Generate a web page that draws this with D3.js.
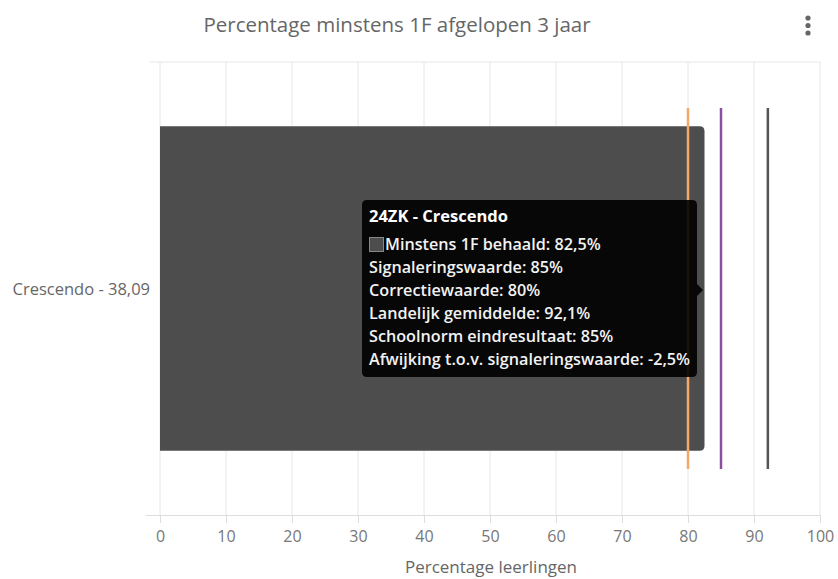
<!DOCTYPE html>
<html><head><meta charset="utf-8">
<script src="https://cdn.jsdelivr.net/npm/d3@7"></script>
<style>
html,body{margin:0;padding:0;background:#fff;}
svg{display:block;font-family:"Open Sans","Noto Sans",sans-serif;}
</style></head>
<body>
<svg id="chart" width="838" height="579"></svg>
<script>
const categories = ["Crescendo - 38,09"];
const behaald = [82.5];
const correctiewaarde = [80];
const signaleringswaarde = [85];
const landelijk = [92.1];
const schoolnorm = [85];
const afwijking = [-2.5];
const xTicks = [0,10,20,30,40,50,60,70,80,90,100];
const schoolCode = "24ZK";
const schoolName = "Crescendo";

const svg = d3.select("#chart");
const W = 838, H = 579;
const m = {left:160, right:18, top:62, bottom:64};
const x = d3.scaleLinear().domain([0,100]).range([m.left, W - m.right]);
const y = d3.scaleBand().domain(categories).range([m.top, H - m.bottom]).padding(0.165);
const yLine = d3.scaleBand().domain(categories).range([m.top, H - m.bottom]).padding(0.113);

// title
svg.append("text").attr("x", 397).attr("y", 32).attr("text-anchor","middle")
  .attr("font-size", 20.5).attr("fill","#666").text("Percentage minstens 1F afgelopen 3 jaar");
// menu dots
[18,25.5,33].forEach(cy => svg.append("circle").attr("cx", 808).attr("cy", cy).attr("r", 2.6).attr("fill","#666"));

// grid
svg.append("g").selectAll("line").data(xTicks).join("line")
  .attr("x1", d => x(d)).attr("x2", d => x(d))
  .attr("y1", m.top).attr("y2", H - m.bottom)
  .attr("stroke","#e6e6e6").attr("stroke-width",1);
svg.append("line").attr("x1", 150).attr("x2", x(100)).attr("y1", m.top).attr("y2", m.top)
  .attr("stroke","#e6e6e6");

// x axis
const xAxis = d3.axisBottom(x).tickValues(xTicks).tickSize(8).tickPadding(8);
const gx = svg.append("g").attr("transform", `translate(0,${H - m.bottom})`).call(xAxis);
gx.select(".domain").attr("stroke","#ddd").attr("d", `M146,0.5H${x(100)}`);
gx.selectAll(".tick line").attr("stroke","#ddd");
gx.selectAll(".tick text").attr("fill","#777").attr("font-size",16).attr("font-family","'Open Sans',sans-serif");
svg.append("text").attr("x", 491).attr("y", 573).attr("text-anchor","middle")
  .attr("font-size", 17).attr("fill","#666").text("Percentage leerlingen");

// y labels
svg.append("g").selectAll("text").data(categories).join("text")
  .attr("x", 150).attr("y", d => y(d) + y.bandwidth()/2 + 6).attr("text-anchor","end")
  .attr("font-size", 16.5).attr("fill","#666").text(d => d);

// bars with rounded right corners
const r = 5;
svg.append("g").selectAll("path").data(categories).join("path")
  .attr("d", (d,i) => {
    const x0 = x(0), x1 = x(behaald[i]), y0 = y(d), y1 = y(d) + y.bandwidth();
    return `M${x0},${y0}H${x1-r}Q${x1},${y0} ${x1},${y0+r}V${y1-r}Q${x1},${y1} ${x1-r},${y1}H${x0}Z`;
  })
  .attr("fill","#4d4d4d");

// reference lines
const refs = [
  {vals: correctiewaarde, color:"#f6a868"},
  {vals: signaleringswaarde, color:"#8b4fa0"},
  {vals: landelijk, color:"#555"}
];
refs.forEach(rf => {
  svg.append("g").selectAll("line").data(categories).join("line")
    .attr("x1", (d,i) => x(rf.vals[i])).attr("x2", (d,i) => x(rf.vals[i]))
    .attr("y1", d => yLine(d)).attr("y2", d => yLine(d) + yLine.bandwidth())
    .attr("stroke", rf.color).attr("stroke-width", 2.5);
});

// tooltip
const fmt = v => String(v).replace(".", ",") + "%";
const tt = svg.append("g").attr("transform","translate(362,200)");
const tw = 335, th = 177;
tt.append("path")
  .attr("d", `M5,0H${tw-5}Q${tw},0 ${tw},5V${90-6}L${tw+6},90L${tw},${90+6}V${th-5}Q${tw},${th} ${tw-5},${th}H5Q0,${th} 0,${th-5}V5Q0,0 5,0Z`)
  .attr("fill","rgba(0,0,0,0.9)");
const tx = 7;
tt.append("text").attr("x", tx).attr("y", 22).attr("font-size", 16.5).attr("font-weight", 700)
  .attr("fill","#fff").text(`${schoolCode} - ${schoolName}`);
tt.append("rect").attr("x", tx+0.5).attr("y", 37.5).attr("width", 14).attr("height", 14)
  .attr("fill","#4d4d4d").attr("stroke","#888").attr("stroke-width",1);
const lines = [
  {t:`Minstens 1F behaald: ${fmt(behaald[0])}`, dx:16},
  {t:`Signaleringswaarde: ${fmt(signaleringswaarde[0])}`, dx:0},
  {t:`Correctiewaarde: ${fmt(correctiewaarde[0])}`, dx:0},
  {t:`Landelijk gemiddelde: ${fmt(landelijk[0])}`, dx:0},
  {t:`Schoolnorm eindresultaat: ${fmt(schoolnorm[0])}`, dx:0},
  {t:`Afwijking t.o.v. signaleringswaarde: ${fmt(afwijking[0])}`, dx:0}
];
tt.selectAll("text.l").data(lines).join("text").attr("class","l")
  .attr("x", d => tx + d.dx).attr("y", (d,i) => 50 + i*23)
  .attr("font-size", 16.2).attr("font-weight", 600).attr("fill","#f2f2f2").text(d => d.t);
</script>
</body></html>
